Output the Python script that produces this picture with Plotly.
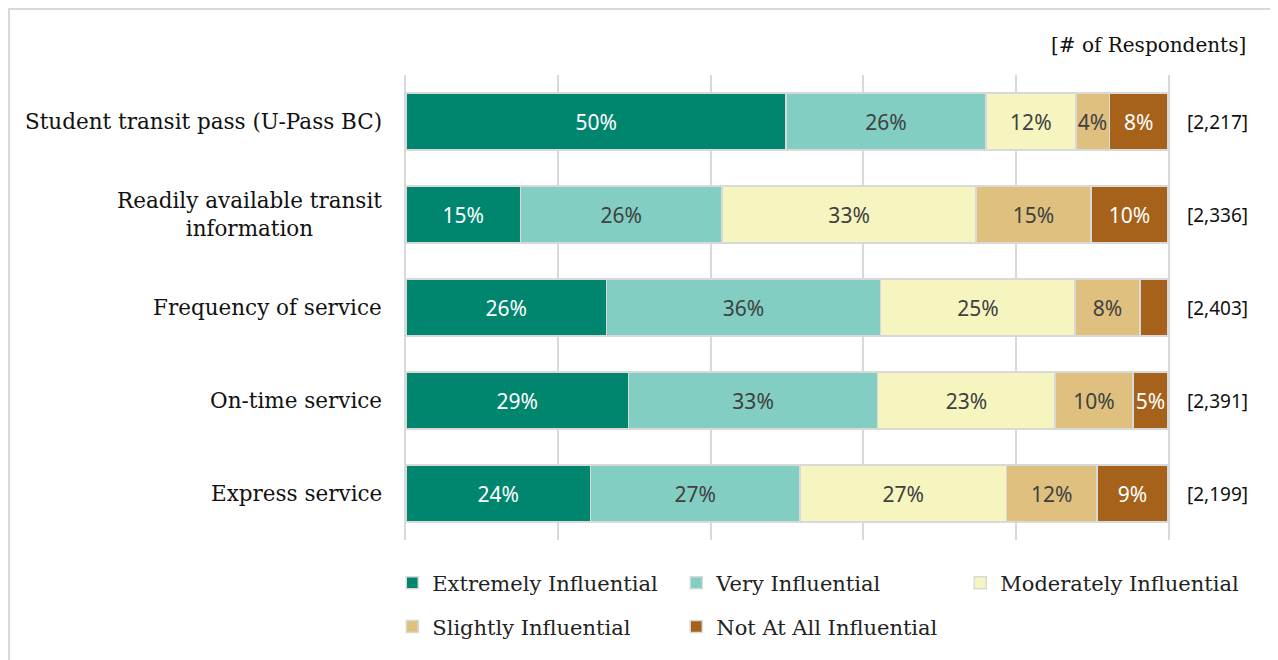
import plotly.graph_objects as go

categories = ["Student transit pass (U-Pass BC)",
              "Readily available transit<br>information",
              "Frequency of service",
              "On-time service",
              "Express service"]
respondents = ["[2,217]", "[2,336]", "[2,403]", "[2,391]", "[2,199]"]

series_names = ["Extremely Influential", "Very Influential", "Moderately Influential",
                "Slightly Influential", "Not At All Influential"]

extremely = [49.9, 15.0, 26.3, 29.2, 24.2]
very = [26.2, 26.5, 36.0, 32.7, 27.5]
moderately = [11.8, 33.3, 25.5, 23.3, 27.1]
slightly = [4.4, 15.1, 8.5, 10.2, 11.9]
not_at_all = [7.7, 10.1, 3.7, 4.6, 9.3]

extremely_lbl = ["50%", "15%", "26%", "29%", "24%"]
very_lbl = ["26%", "26%", "36%", "33%", "27%"]
moderately_lbl = ["12%", "33%", "25%", "23%", "27%"]
slightly_lbl = ["4%", "15%", "8%", "10%", "12%"]
not_at_all_lbl = ["8%", "10%", "", "5%", "9%"]

colors = ["#00866F", "#82CEC2", "#F6F5C0", "#DFC07F", "#A6611A"]
text_colors = ["white", "#404040", "#404040", "#404040", "white"]

values = [extremely, very, moderately, slightly, not_at_all]
labels = [extremely_lbl, very_lbl, moderately_lbl, slightly_lbl, not_at_all_lbl]

FONT = "DejaVu Serif"
GRID = "#D9D9D9"

fig = go.Figure()
for i, name in enumerate(series_names):
    fig.add_trace(go.Bar(
        y=categories, x=values[i], name=name, orientation="h",
        marker=dict(color=colors[i], line=dict(color=GRID, width=1.5)),
        text=labels[i], textposition="inside", insidetextanchor="middle",
        textangle=0, constraintext="none",
        insidetextfont=dict(color=text_colors[i], size=21, family="Noto Sans"),
        legend="legend" if i < 3 else "legend2",
        hoverinfo="skip",
    ))

# category labels (centred multi-line) and respondent counts
for cat, n in zip(categories, respondents):
    fig.add_annotation(x=0, y=cat, xref="paper", yref="y", text=cat,
                       xanchor="right", xshift=-22, align="center", showarrow=False,
                       font=dict(family=FONT, size=21.5, color="#111111"))
    fig.add_annotation(x=1, y=cat, xref="paper", yref="y", text=n,
                       xanchor="left", xshift=17, showarrow=False,
                       font=dict(family="Noto Sans", size=19, color="#111111"))

fig.add_annotation(x=1, y=1, xref="paper", yref="paper", text="[# of Respondents]",
                   xanchor="right", yanchor="middle", xshift=80, yshift=30,
                   showarrow=False, font=dict(family=FONT, size=20, color="#111111"))

# outer frame (left and top edges visible)
fig.add_shape(type="rect", xref="paper", yref="paper",
              x0=-0.5210, x1=1.2, y0=-0.35, y1=1.1419,
              line=dict(color=GRID, width=2), layer="below")

# the page adds an 8px body margin, so the figure is a little smaller
fig.update_layout(
    width=1270, height=652,
    margin=dict(l=398, r=110, t=67, b=120),
    barmode="stack", bargap=0.387,
    plot_bgcolor="white", paper_bgcolor="white",
    font=dict(family=FONT, size=16, color="#222222"),
    xaxis=dict(range=[0, 100], dtick=20, showgrid=True, gridcolor=GRID, gridwidth=1.5,
               zeroline=False, showticklabels=False, fixedrange=True),
    yaxis=dict(autorange="reversed", showticklabels=False, showgrid=False,
               showline=True, mirror=True, linecolor=GRID, linewidth=1.5),
    legend=dict(orientation="h", x=-0.018, xanchor="left", y=-0.0925, yanchor="middle",
                entrywidth=239, traceorder="normal",
                font=dict(family=FONT, size=21, color="#222222"), itemclick=False),
    legend2=dict(orientation="h", x=-0.018, xanchor="left", y=-0.187, yanchor="middle",
                 entrywidth=239, traceorder="normal",
                 font=dict(family=FONT, size=21, color="#222222"), itemclick=False),
    showlegend=True,
)

fig.write_html("out.html")
